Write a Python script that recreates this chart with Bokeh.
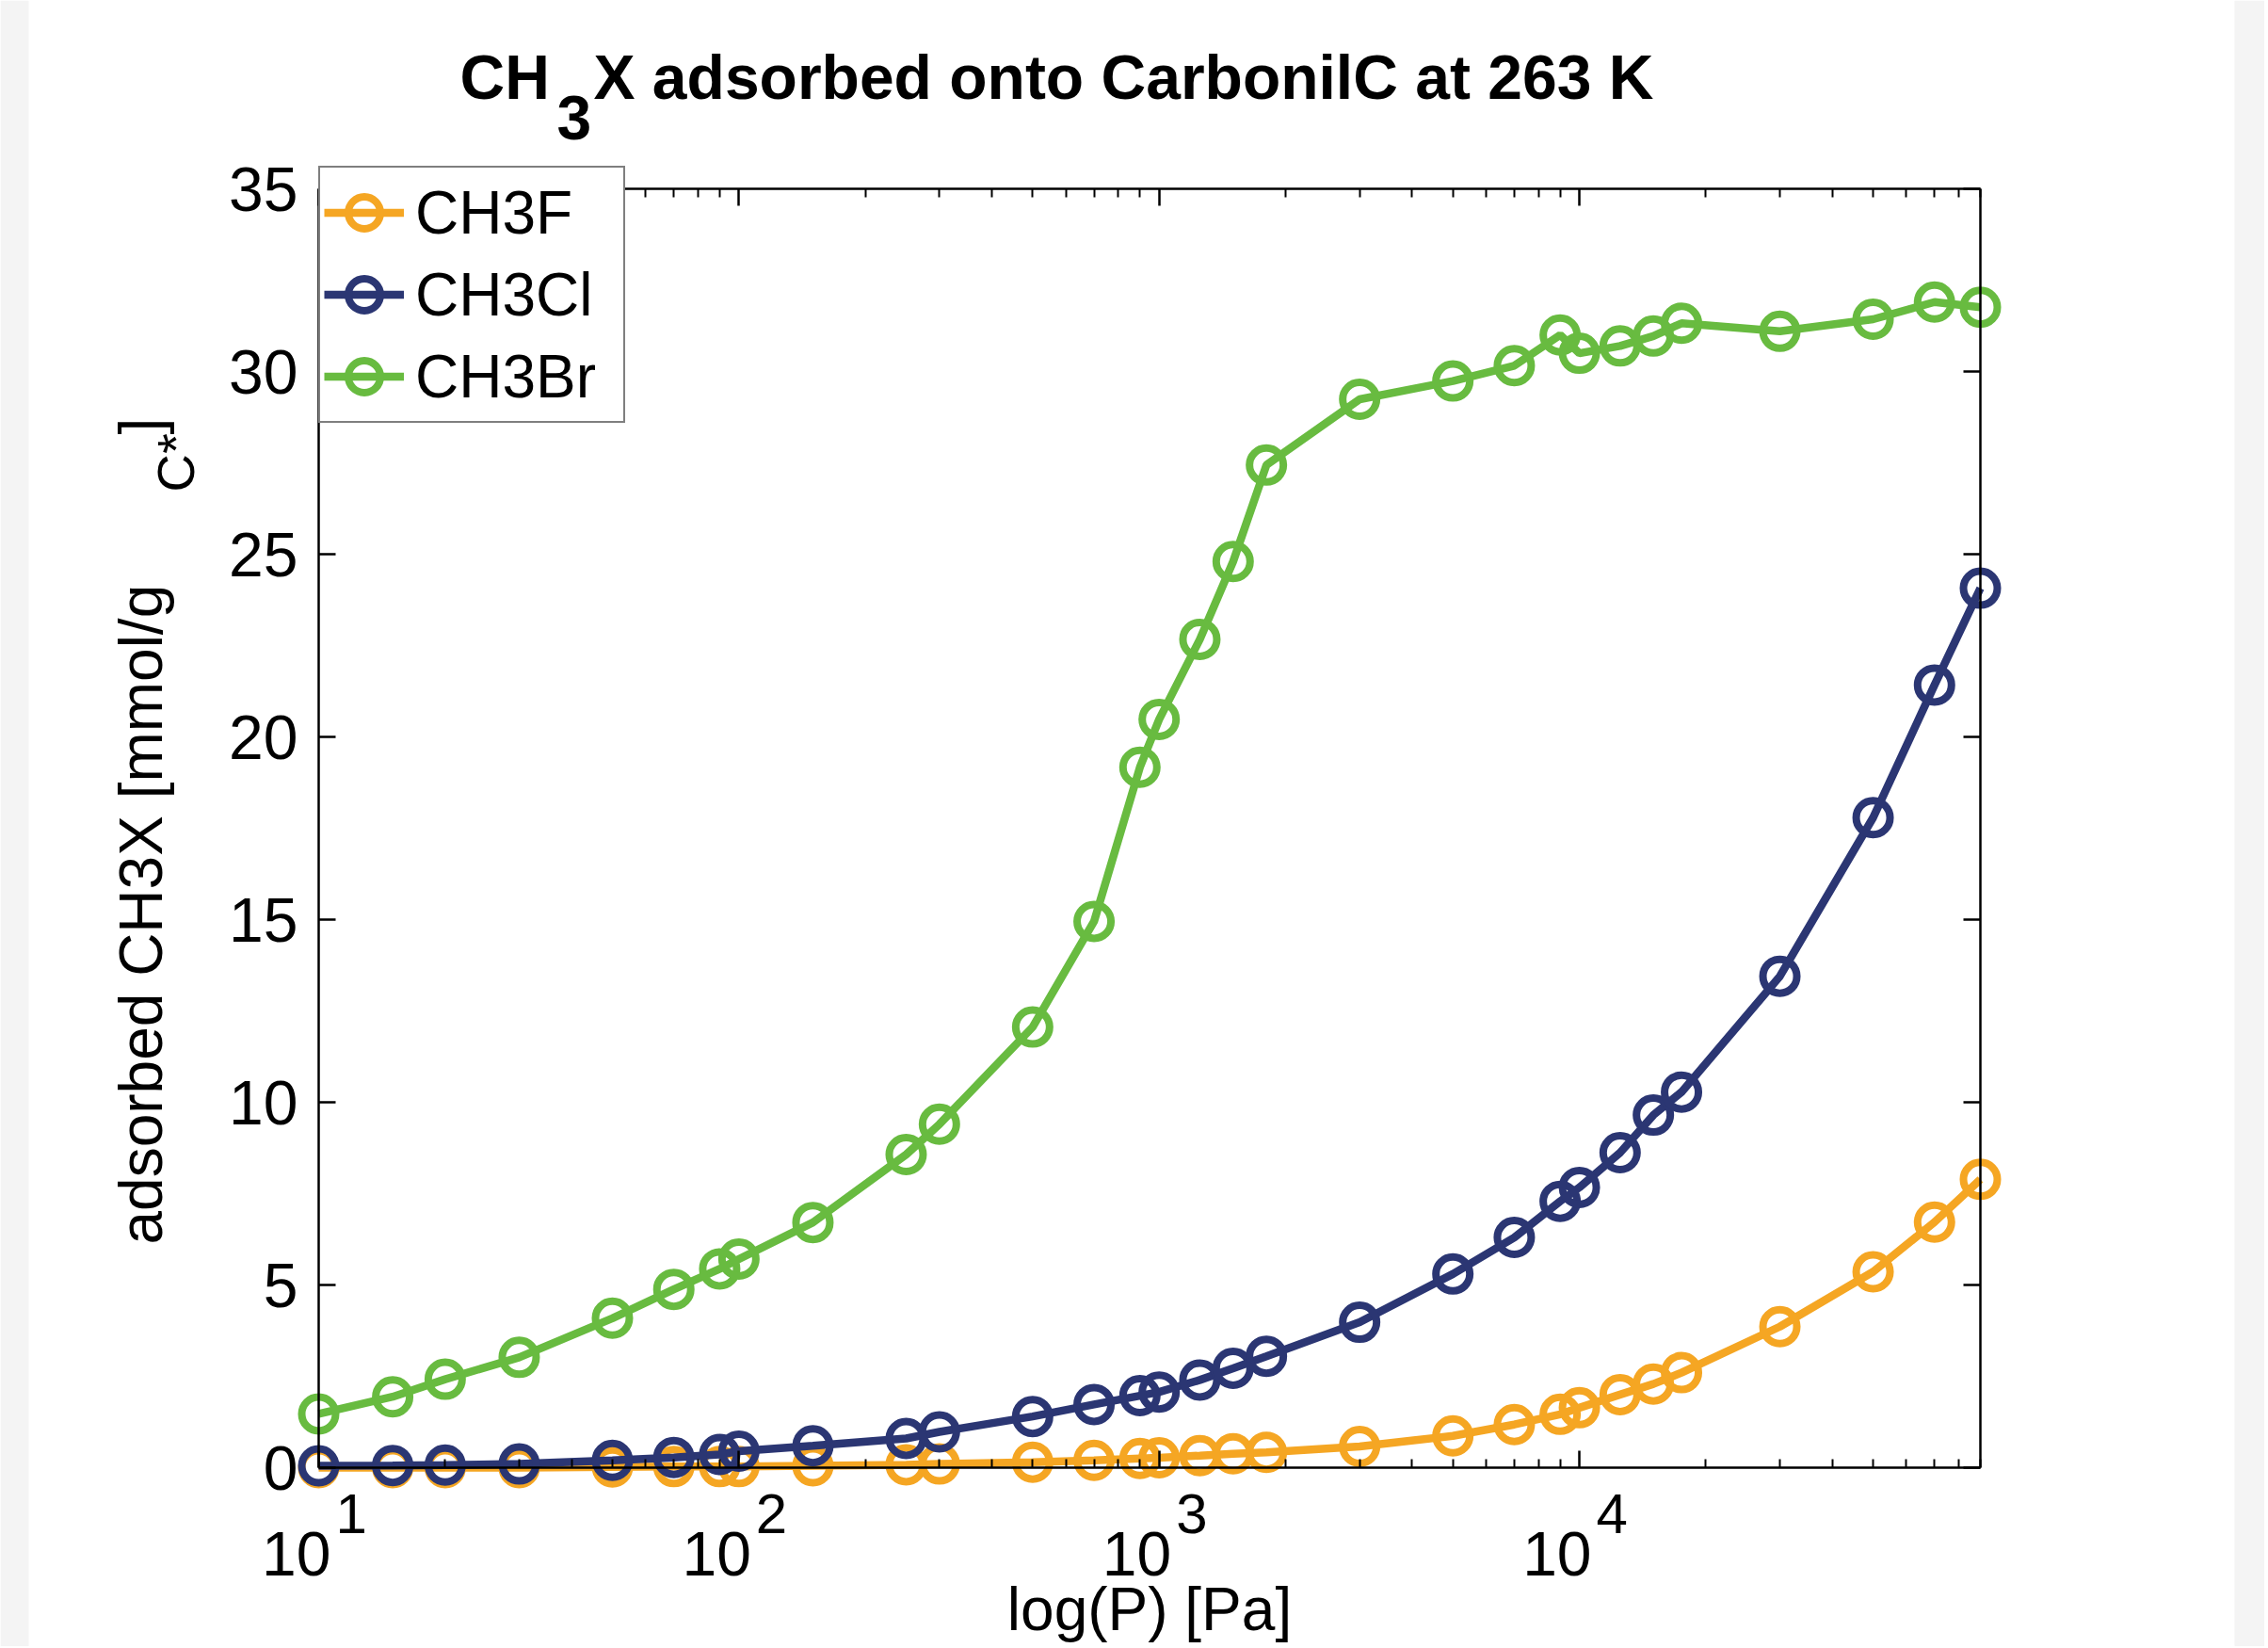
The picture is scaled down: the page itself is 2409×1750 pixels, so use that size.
import math
from bokeh.plotting import figure
from bokeh.models import Range1d, LogAxis, LinearAxis, FixedTicker, Label, BoxAnnotation
from bokeh.embed import file_html
from bokeh.resources import INLINE

# ---- data ----
pressure_pa = [10, 15, 20, 30, 50, 70, 90, 100, 150, 250, 300, 500, 700, 900,
               1000, 1250, 1500, 1800, 3000, 5000, 7000, 9000, 10000, 12500,
               15000, 17500, 30000, 50000, 70000, 90000]
ch3f = [0.0, 0.0, 0.0, 0.0, 0.02, 0.03, 0.03, 0.03, 0.05, 0.08, 0.1, 0.15,
        0.2, 0.25, 0.27, 0.33, 0.38, 0.42, 0.58, 0.87, 1.18, 1.46, 1.64,
        2.0, 2.29, 2.6, 3.86, 5.36, 6.72, 7.89]
ch3cl = [0.05, 0.06, 0.07, 0.1, 0.2, 0.28, 0.36, 0.45, 0.6, 0.8, 0.98, 1.4,
         1.73, 1.97, 2.07, 2.4, 2.72, 3.05, 3.98, 5.3, 6.3, 7.29, 7.67, 8.62,
         9.65, 10.28, 13.45, 17.79, 21.42, 24.07]
ch3br = [1.47, 1.94, 2.42, 3.02, 4.09, 4.88, 5.44, 5.71, 6.71, 8.57, 9.40,
         12.06, 14.95, 19.17, 20.48, 22.67, 24.8, 27.44, 29.24, 29.74, 30.16,
         31.0, 30.5, 30.7, 30.97, 31.32, 31.1, 31.43, 31.9, 31.76]

series_names = ["CH3F", "CH3Cl", "CH3Br"]
series_values = [ch3f, ch3cl, ch3br]
series_colors = ["#F5A623", "#2B3673", "#68BB40"]

x_limits = (10, 90000)
y_limits = (0, 35)
x_major_ticks = [10, 100, 1000, 10000]
x_tick_base = "10"
x_tick_exponents = ["1", "2", "3", "4"]
x_minor_ticks = [m * 10 ** e for e in range(1, 5) for m in range(2, 10) if m * 10 ** e <= 90000]
y_ticks = [0, 5, 10, 15, 20, 25, 30, 35]

title_parts = ["CH", "3", "X adsorbed onto CarbonilC at 263 K"]
ylabel_parts = ["adsorbed CH3X [mmol/g", "C*", "]"]
xlabel_text = "log(P) [Pa]"

FONT = "Liberation Sans"

# ---- layout: canvas size and where the axes box sits on it (pixels) ----
W, H = 2405, 1748
BOX_L, BOX_R, BOX_T, BOX_B = 338, 2103, 200, 1558

# extend ranges so the axes box lands at the wanted pixels of a full-canvas frame
lx0, lx1 = math.log10(x_limits[0]), math.log10(x_limits[1])
ppd = (BOX_R - BOX_L) / (lx1 - lx0)
xr = Range1d(10 ** (lx0 - BOX_L / ppd), 10 ** (lx1 + (W - BOX_R) / ppd))
ppu = (BOX_B - BOX_T) / (y_limits[1] - y_limits[0])
yr = Range1d(y_limits[0] - (H - BOX_B) / ppu, y_limits[1] + BOX_T / ppu)

p = figure(width=W, height=H, x_axis_type="log", x_range=xr, y_range=yr,
           x_axis_location=None, y_axis_location=None, title=None,
           output_backend="svg", toolbar_location=None,
           min_border=0, min_border_left=0, min_border_right=0,
           min_border_top=0, min_border_bottom=0)
p.grid.visible = False
p.outline_line_color = None
p.background_fill_color = "white"
p.border_fill_color = "white"

# faint grey page strips at the left and right edges of the screenshot
for l, r in [(0, 30), (2373, W)]:
    p.add_layout(BoxAnnotation(left=l, right=r, bottom=0, top=H, left_units="screen",
                               right_units="screen", bottom_units="screen",
                               top_units="screen", fill_color="#f4f4f4",
                               fill_alpha=1.0, line_color=None, level="underlay"))


def style_axis(ax, labels=True, minor=False):
    ax.axis_line_color = "black"
    ax.axis_line_width = 2.5
    ax.major_tick_line_color = "black"
    ax.major_tick_line_width = 2.5
    ax.major_tick_in = 18
    ax.major_tick_out = 0
    if minor:
        ax.minor_tick_line_color = "black"
        ax.minor_tick_line_width = 2
        ax.minor_tick_in = 9
        ax.minor_tick_out = 0
    else:
        ax.minor_tick_line_color = None
    ax.major_label_text_font = FONT
    ax.major_label_text_font_size = "66px"
    ax.major_label_text_color = "black" if labels else None


bottom = LogAxis(ticker=FixedTicker(ticks=x_major_ticks, minor_ticks=x_minor_ticks),
                 fixed_location=y_limits[0], bounds=x_limits)
style_axis(bottom, labels=False, minor=True)
p.add_layout(bottom, "below")

top = LogAxis(ticker=FixedTicker(ticks=x_major_ticks, minor_ticks=x_minor_ticks),
              fixed_location=y_limits[1], bounds=x_limits)
style_axis(top, labels=False, minor=True)
p.add_layout(top, "above")

left = LinearAxis(ticker=FixedTicker(ticks=y_ticks), fixed_location=x_limits[0],
                  bounds=y_limits)
style_axis(left)
left.major_label_standoff = 22
p.add_layout(left, "left")

right = LinearAxis(ticker=FixedTicker(ticks=y_ticks), fixed_location=x_limits[1],
                   bounds=y_limits)
style_axis(right, labels=False)
p.add_layout(right, "right")

for name, vals, col in zip(series_names, series_values, series_colors):
    p.line(pressure_pa, vals, line_color=col, line_width=8.5, legend_label=name)
    p.scatter(pressure_pa, vals, marker="circle", size=36, fill_color=None,
              line_color=col, line_width=8, legend_label=name)

lg = p.legend[0]
lg.location = (BOX_L, H - 449)
lg.label_text_font = FONT
lg.label_text_font_size = "64px"
lg.label_text_color = "black"
lg.glyph_width = 85
lg.glyph_height = 87
lg.label_height = 87
lg.label_width = 217
lg.spacing = 0
lg.padding = 4
lg.margin = 0
lg.label_standoff = 12
lg.border_line_color = "black"
lg.border_line_width = 2.5
lg.background_fill_color = "white"
lg.background_fill_alpha = 1.0

MID = 0.38  # baseline sits this many ems below a "middle"-anchored point


def lab(text, x, baseline_y, size, bold=False, angle=0.0, align="left"):
    # x from canvas left, baseline_y from canvas top
    if angle:
        # rotated 90deg ccw: the baseline lies to the right of the anchor
        sx, sy = x - MID * size, H - baseline_y
    else:
        sx, sy = x, H - (baseline_y - MID * size)
    p.add_layout(Label(x=sx, y=sy, x_units="screen", y_units="screen", text=text,
                       text_font=FONT, text_font_size=f"{size}px",
                       text_font_style="bold" if bold else "normal",
                       text_color="black", angle=angle, angle_units="rad",
                       text_align=align, text_baseline="middle"))


# title with subscript
lab(title_parts[0], 488, 107, 66, bold=True)
lab(title_parts[1], 591, 150, 66, bold=True)
lab(title_parts[2], 630, 107, 66, bold=True)

# y label with subscript (x is the baseline; baseline_y is where the text starts)
lab(ylabel_parts[0], 174, 1321, 64, angle=math.pi / 2)
lab(ylabel_parts[1], 207, 522, 56, angle=math.pi / 2)
lab(ylabel_parts[2], 174, 461, 64, angle=math.pi / 2)

# x tick labels: "10" with raised exponent, placed at the tick values
for t, ex in zip(x_major_ticks, x_tick_exponents):
    p.add_layout(Label(x=t, y=H - (1675 - MID * 66), x_units="data", y_units="screen",
                       text=x_tick_base, x_offset=13, text_font=FONT,
                       text_font_size="66px", text_color="black",
                       text_align="right", text_baseline="middle"))
    p.add_layout(Label(x=t, y=H - (1630 - MID * 60), x_units="data", y_units="screen",
                       text=ex, x_offset=18, text_font=FONT,
                       text_font_size="60px", text_color="black",
                       text_align="left", text_baseline="middle"))

# x label
p.add_layout(Label(x=(BOX_L + BOX_R) / 2, y=H - (1733 - MID * 64), x_units="screen",
                   y_units="screen", text=xlabel_text, text_font=FONT,
                   text_font_size="64px", text_color="black",
                   text_align="center", text_baseline="middle"))

open("out.html", "w").write(file_html(p, INLINE))
